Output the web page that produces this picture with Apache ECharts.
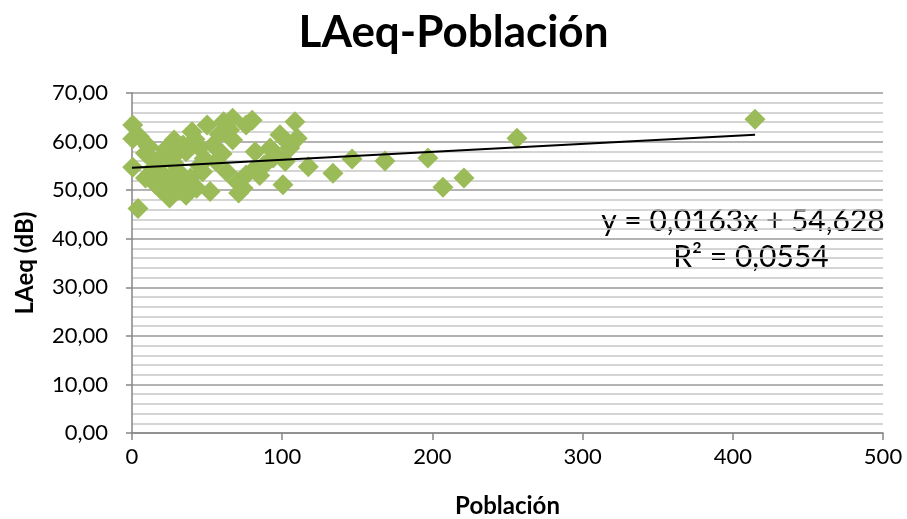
<!DOCTYPE html>
<html>
<head>
<meta charset="utf-8">
<script src="https://cdn.jsdelivr.net/npm/echarts@6/dist/echarts.min.js"></script>
<style>html,body{margin:0;padding:0;background:#fff}#c{width:907px;height:519px}</style>
</head>
<body>
<div id="c"></div>
<script>
const poblacion = [0.5,0.5,5,0.5,4, 9,12,14,9,16,18,22,19, 25,28,26,31,21,36,32,34,30,36,
  40,50,61,67,76, 36,45,54,56,47,39,43,52,63,70,74,36,
  80,108.5,98.5,110,82,92,105,102,117.4,76,82,88,94,100.5,71,
  65,67,58,45,28,42,48,60,85,95,103,24,33,11,
  133.8,146.5,168.4,197,207,221,256.3,414.8];
const laeq = [63.4,60.6,61.0,54.7,46.2, 57.6,56.8,54.5,52.5,51.1,56.2,58.3,50.2, 48.4,60.3,56.2,50.0,53.1,49.0,58.3,59.3,54.1,52.1,
  62.0,63.4,64.1,64.8,63.4, 57.9,58.7,59.3,55.9,53.8,52.5,50.4,49.7,53.8,51.7,50.4,49.0,
  64.4,64.1,61.4,60.7,57.9,58.7,58.7,55.9,54.8,53.1,54.5,55.2,56.6,51.1,49.4,
  62.4,60.3,61.5,55.0,55.5,60.5,56.5,57.5,53.0,57.5,60.0,52.0,51.5,59.0,
  53.5,56.4,56.0,56.6,50.6,52.5,60.7,64.6];
const trendSlope = 0.0163;
const trendIntercept = 54.628;
const trendX = [0, 414.8];
const yTicks = ['0,00','10,00','20,00','30,00','40,00','50,00','60,00','70,00'];
const equationText = 'y = 0,0163x + 54,628';
const r2Text = 'R² = 0,0554';

const points = poblacion.map((x,i)=>[x, laeq[i]]);
const trend = trendX.map(x=>[x, trendSlope*x + trendIntercept]);
const FONT = 'Lato, "Open Sans", sans-serif';

const chart = echarts.init(document.getElementById('c'));
chart.setOption({
  animation:false,
  backgroundColor:'#fff',
  title:{text:'LAeq-Población', left:'center', top:6,
    textStyle:{fontFamily:FONT, fontSize:44, fontWeight:'bold', color:'#000'}},
  grid:{left:132, right:24, top:93, bottom:86, containLabel:false, outerBoundsMode:'none'},
  xAxis:{type:'value', min:0, max:500, interval:100,
    name:'Población', nameLocation:'middle', nameGap:61,
    nameTextStyle:{fontFamily:FONT, fontSize:24, fontWeight:'bold', color:'#000'},
    axisLine:{show:true, lineStyle:{color:'#868686', width:1.5}},
    axisTick:{show:true, length:7, lineStyle:{color:'#868686', width:1.5}},
    axisLabel:{fontFamily:FONT, fontSize:22, color:'#000', margin:13},
    splitLine:{show:false}},
  yAxis:{type:'value', min:0, max:70, interval:10,
    name:'LAeq (dB)', nameLocation:'middle', nameGap:95, nameRotate:90,
    nameTextStyle:{fontFamily:FONT, fontSize:24, fontWeight:'bold', color:'#000'},
    axisLine:{show:true, lineStyle:{color:'#868686', width:1.5}},
    axisTick:{show:true, length:6, lineStyle:{color:'#868686', width:1.5}},
    axisLabel:{fontFamily:FONT, fontSize:22, color:'#000', margin:24,
      formatter:(v)=>yTicks[Math.round(v/10)]},
    splitLine:{show:true, lineStyle:{color:'#9a9a9a', width:1.5}},
    minorTick:{show:false, splitNumber:5},
    minorSplitLine:{show:true, lineStyle:{color:'#c8c8c8', width:1.5}}},
  series:[
    {type:'scatter', data:points, symbol:'diamond', symbolSize:21,
      itemStyle:{color:'#9BBB59', opacity:1}, z:2},
    {type:'line', data:trend, symbol:'none', lineStyle:{color:'#000', width:2}, z:3}
  ],
  graphic:[
    {type:'text', x:743, y:221, style:{text:equationText, fontFamily:FONT, fontSize:30, fill:'#000', align:'center', verticalAlign:'middle'}},
    {type:'text', x:751, y:257, style:{text:r2Text, fontFamily:FONT, fontSize:30, fill:'#000', align:'center', verticalAlign:'middle'}}
  ]
});
</script>
</body>
</html>
